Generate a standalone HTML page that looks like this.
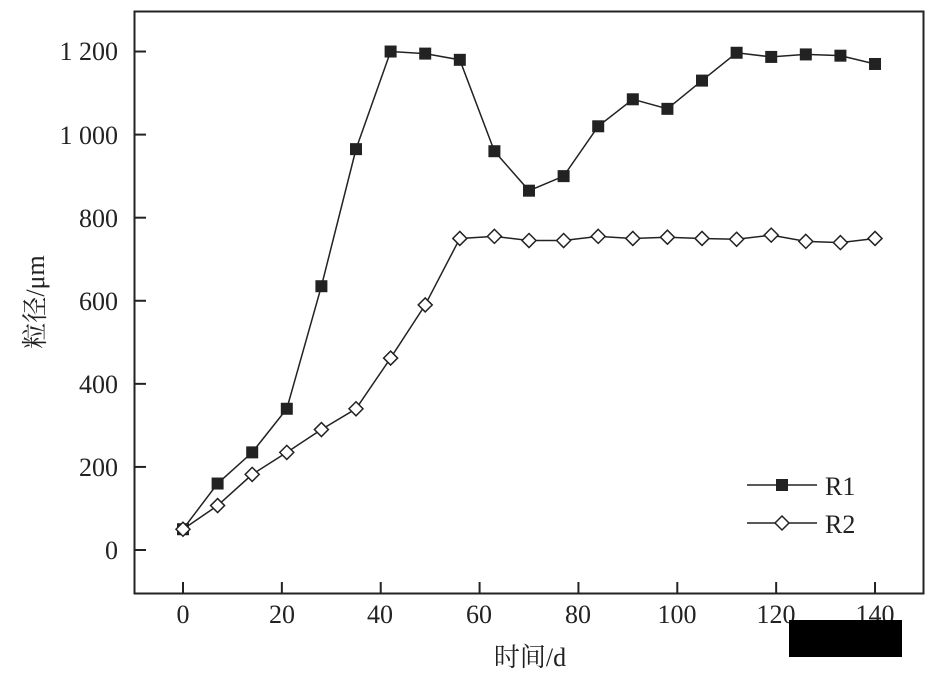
<!DOCTYPE html>
<html><head><meta charset="utf-8"><style>
html,body{margin:0;padding:0;background:#fff;width:945px;height:685px;overflow:hidden}
svg text{font-family:"Liberation Serif","Noto Serif CJK SC",serif;fill:#222}
</style></head><body>
<svg id="s" width="945" height="685" xmlns="http://www.w3.org/2000/svg">
<rect x="134.5" y="11.5" width="789" height="582" fill="none" stroke="#222" stroke-width="2"/>
<g font-size="26" text-anchor="end">
<text x="118" y="559">0</text><text x="118" y="476">200</text><text x="118" y="393">400</text>
<text x="118" y="310">600</text><text x="118" y="227">800</text><text x="118" y="144">1 000</text><text x="118" y="60">1 200</text>
</g>
<g font-size="26" text-anchor="middle">
<text x="183" y="623">0</text><text x="282" y="623">20</text><text x="380" y="623">40</text><text x="479" y="623">60</text>
<text x="578" y="623">80</text><text x="677" y="623">100</text><text x="776" y="623">120</text><text x="875" y="623">140</text>
<text x="530" y="666">时间/d</text>
</g>
<text font-size="26" text-anchor="middle" transform="translate(44,302) rotate(-90)">粒径/μm</text>
<g id="g"></g>
<line x1="747" y1="485" x2="817" y2="485" stroke="#222" stroke-width="1.5"/>
<rect x="776" y="479" width="12" height="12" fill="#222"/>
<text x="825" y="495" font-size="26">R1</text>
<line x1="747" y1="523" x2="817" y2="523" stroke="#222" stroke-width="1.5"/>
<polygon points="782,516 789,523 782,530 775,523" fill="#fff" stroke="#222" stroke-width="1.5"/>
<text x="825" y="533" font-size="26">R2</text>
<rect x="789" y="620" width="113" height="37" fill="#000"/>
</svg>
<script>
var r1=[50,160,235,340,635,965,1200,1195,1180,960,865,900,1020,1085,1062,1130,1197,1187,1193,1190,1170];
var r2=[50,107,182,235,290,340,462,590,750,755,745,745,755,750,753,750,748,758,743,740,750];
function X(i){return 183+i*7*4.943}function Y(v){return 550-v*0.4154}
var h='';
[0,200,400,600,800,1000,1200].forEach(function(v){h+='<line x1="134" y1="'+Y(v)+'" x2="146" y2="'+Y(v)+'" stroke="#222" stroke-width="2"/>'});
for(var t=0;t<=140;t+=20){var x=183+t*4.943;h+='<line x1="'+x+'" y1="593" x2="'+x+'" y2="582" stroke="#222" stroke-width="2"/>'}
function pl(a){return a.map(function(v,i){return X(i)+','+Y(v)}).join(' ')}
h+='<polyline points="'+pl(r1)+'" fill="none" stroke="#222" stroke-width="1.5"/>';
h+='<polyline points="'+pl(r2)+'" fill="none" stroke="#222" stroke-width="1.5"/>';
r1.forEach(function(v,i){h+='<rect x="'+(X(i)-6)+'" y="'+(Y(v)-6)+'" width="12" height="12" fill="#222"/>'});
r2.forEach(function(v,i){var x=X(i),y=Y(v);h+='<polygon points="'+x+','+(y-7)+' '+(x+7)+','+y+' '+x+','+(y+7)+' '+(x-7)+','+y+'" fill="#fff" stroke="#222" stroke-width="1.5"/>'});
document.getElementById('g').innerHTML=h;
</script>
</body></html>
